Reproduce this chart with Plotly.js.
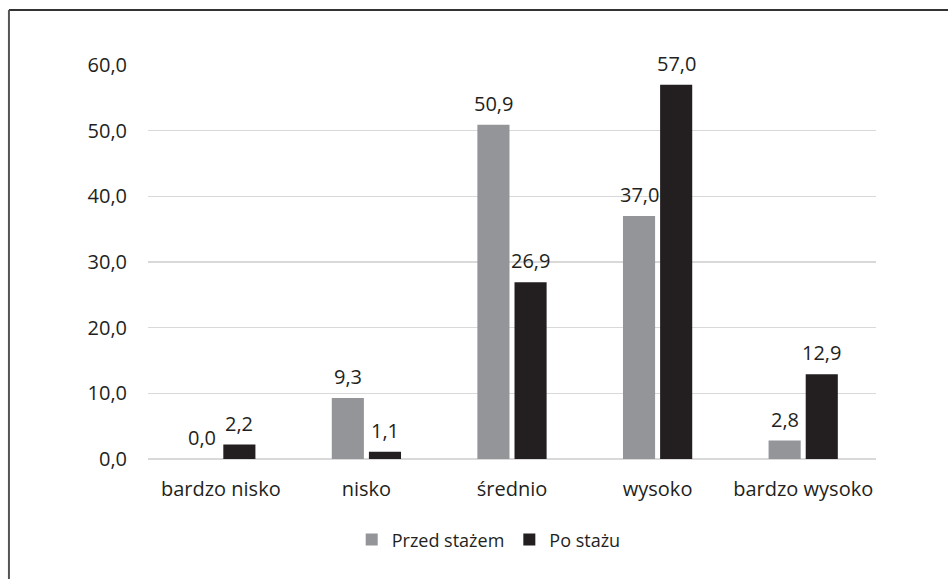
<!DOCTYPE html>
<html>
<head>
<meta charset="utf-8">
<script src="https://cdn.plot.ly/plotly-3.0.1.min.js"></script>
<style>html,body{margin:0;padding:0;background:#fff;}#chart{width:948px;height:579px;}</style>
</head>
<body>
<div id="chart"></div>
<script>
const categories = ["bardzo nisko", "nisko", "średnio", "wysoko", "bardzo wysoko"];
const seriesNames = ["Przed stażem", "Po stażu"];
const przedStazem = [0.0, 9.3, 50.9, 37.0, 2.8];
const poStazu = [2.2, 1.1, 26.9, 57.0, 12.9];
const yTicks = [0, 10, 20, 30, 40, 50, 60];

const font = {family: "Open Sans, sans-serif", size: 20, color: "#231f20"};
const fmt = v => v.toFixed(1).replace(".", ",");

const traces = [
  {type: "bar", name: seriesNames[0], x: categories, y: przedStazem,
   marker: {color: "#939598"}, hoverinfo: "none"},
  {type: "bar", name: seriesNames[1], x: categories, y: poStazu,
   marker: {color: "#231f20"}, hoverinfo: "none"}
];

const annotations = [];
[[przedStazem, -18.5], [poStazu, 18.5]].forEach(([vals, dx]) => {
  vals.forEach((v, i) => {
    annotations.push({x: categories[i], y: v, xref: "x", yref: "y", text: fmt(v),
      showarrow: false, xanchor: "center", yanchor: "bottom", xshift: dx, yshift: 6,
      font: font});
  });
});

const layout = {
  width: 948, height: 579,
  margin: {l: 148, r: 72, t: 65, b: 120},
  paper_bgcolor: "#fff", plot_bgcolor: "#fff",
  separators: ", ",
  font: font,
  barmode: "group", bargap: 0.49, bargroupgap: 0.135,
  showlegend: true,
  legend: {orientation: "h", x: 0.468, xanchor: "center", y: -0.205, yanchor: "middle",
           font: {family: font.family, size: 18, color: font.color}, itemwidth: 30, traceorder: "normal"},
  xaxis: {type: "category", showgrid: false, showline: false, zeroline: false,
          ticks: "", tickfont: font, ticklabelstandoff: 16},
  yaxis: {range: [0, 60], tickvals: yTicks, tickformat: ".1f", showgrid: true,
          gridcolor: "#d9d9d9", gridwidth: 1.5, zeroline: true, zerolinecolor: "#d9d9d9",
          zerolinewidth: 1.5, showline: false, ticks: "", tickfont: font, ticklabelstandoff: 20},
  annotations: annotations,
  shapes: [
    {type: "line", xref: "paper", yref: "paper", x0: -0.191, x1: 1.2, y0: 1.1396, y1: 1.1396,
     line: {color: "#333", width: 2}},
    {type: "line", xref: "paper", yref: "paper", x0: -0.191, x1: -0.191, y0: -0.4, y1: 1.1396,
     line: {color: "#555", width: 2}}
  ]
};

Plotly.newPlot("chart", traces, layout, {displayModeBar: false, staticPlot: true});
</script>
</body>
</html>
